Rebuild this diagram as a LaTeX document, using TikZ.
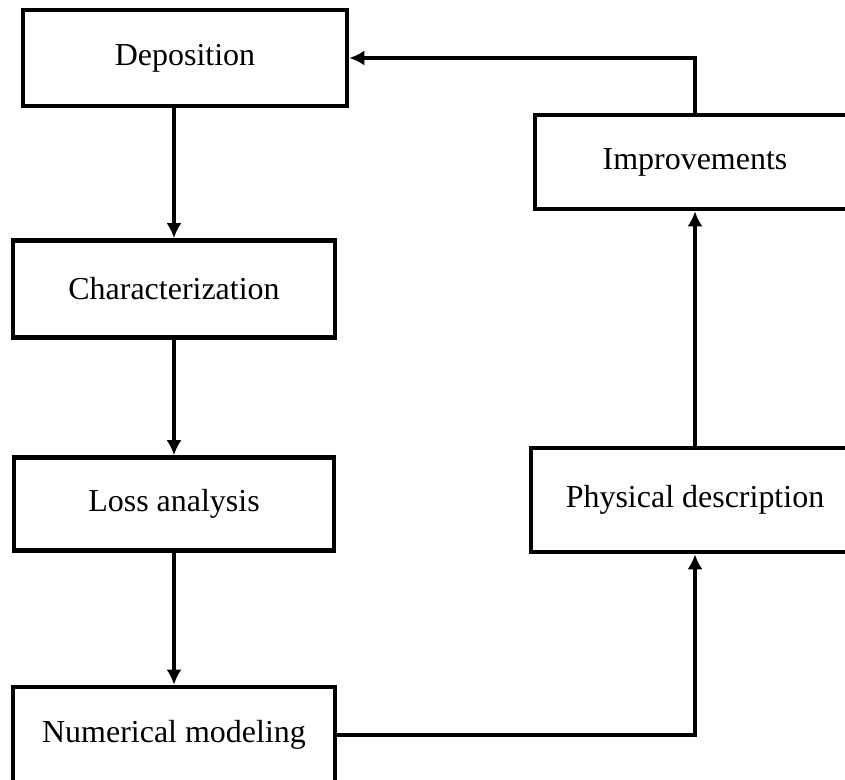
\documentclass[tikz,border=0pt]{standalone}
\usepackage{fontspec}
\setmainfont{Liberation Serif}
\usetikzlibrary{arrows.meta}

\tikzset{
  box/.style={draw, line width=2.6pt, rectangle, inner sep=0pt,
    font=\fontsize{18.2}{21}\selectfont},
  flow/.style={line width=2.6pt, -{Latex[length=3mm,width=3mm]}}
}

\begin{document}
\begin{tikzpicture}[x=0.02cm,y=-0.02cm]
                \useasboundingbox (0,0) rectangle (845,780);

                \node[box, minimum width=6.48cm, minimum height=1.92cm] (dep) at (185,58) {Deposition};
                \node[box, minimum width=6.44cm, minimum height=1.94cm] (char) at (174,289) {Characterization};
                \node[box, minimum width=6.40cm, minimum height=1.86cm] (loss) at (174,504) {Loss analysis};
                \node[box, minimum width=6.44cm, minimum height=1.92cm] (num) at (174,735) {Numerical modeling};

                \node[box, minimum width=6.40cm, minimum height=1.88cm] (imp) at (695,162) {Improvements};
                \node[box, minimum width=6.56cm, minimum height=2.08cm] (phys) at (695,500) {Physical description};

                \draw[flow] (dep.south -| char.north) -- (char.north);
                \draw[flow] (char.south) -- (loss.north);
                \draw[flow] (loss.south) -- (num.north);
                \draw[flow] (num.east) -| (phys.south);
                \draw[flow] (phys.north) -- (imp.south);
                \draw[flow] (imp.north) |- (dep.east);
            \end{tikzpicture}
\end{document}
